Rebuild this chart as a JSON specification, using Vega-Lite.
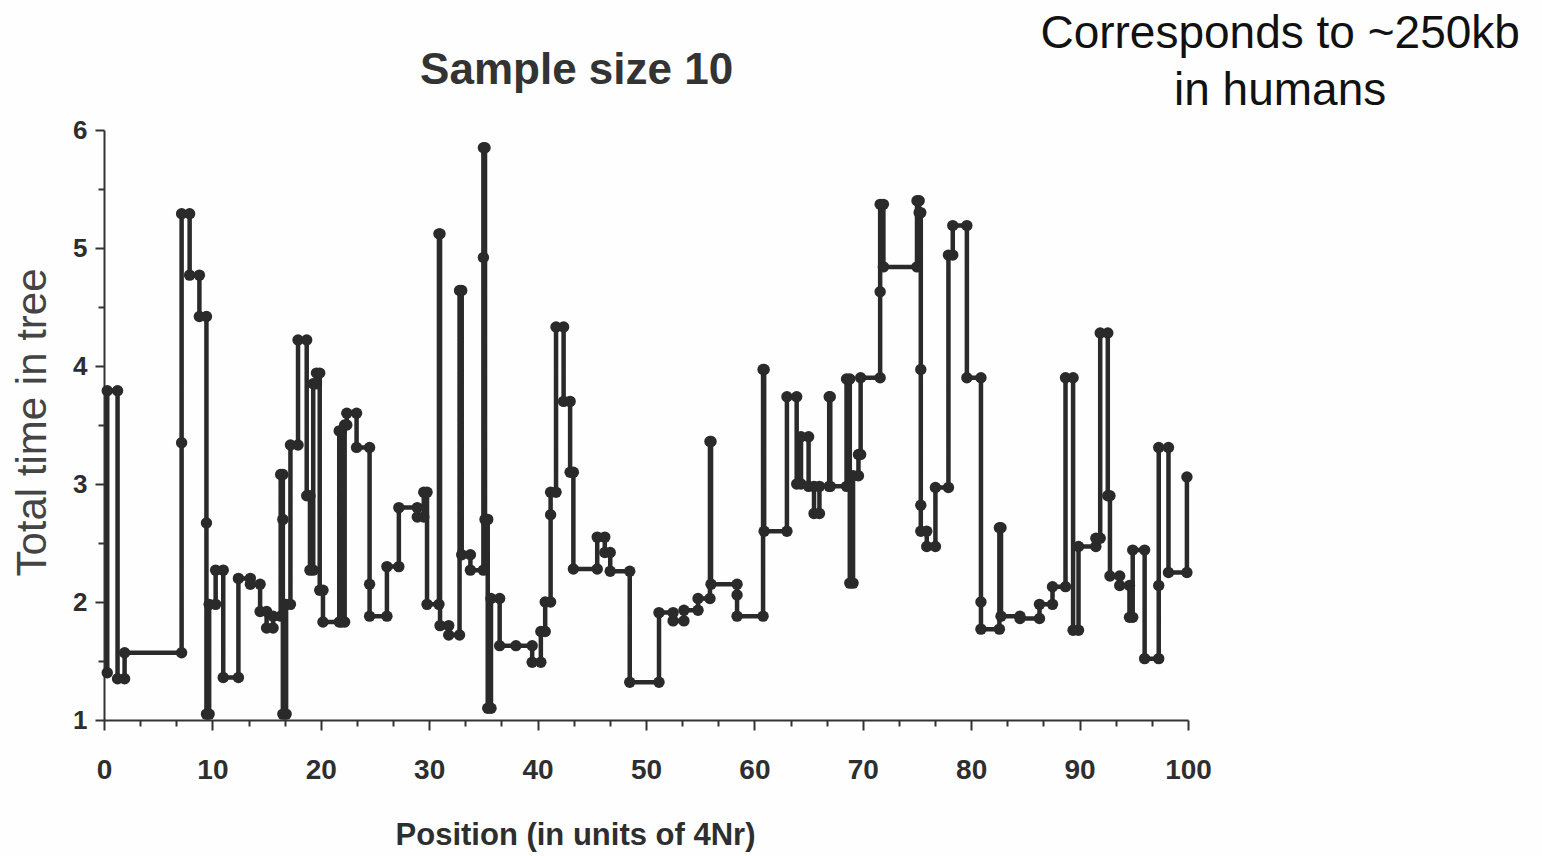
{
  "$schema": "https://vega.github.io/schema/vega-lite/v6.json",
  "autosize": "none",
  "width": 1084,
  "height": 590,
  "padding": {"left": 104, "top": 130, "right": 354, "bottom": 136},
  "background": "#fefefe",
  "config": {"view": {"stroke": null}, "font": "Liberation Sans"},
  "data": {"values": [
    {"i":1,"x":0.3,"y":1.4},{"i":2,"x":0.3,"y":3.79},{"i":3,"x":1.25,"y":3.79},{"i":4,"x":1.25,"y":1.35},{"i":5,"x":1.9,"y":1.35},{"i":6,"x":1.9,"y":1.57},{"i":7,"x":7.16,"y":1.57},{"i":8,"x":7.16,"y":3.35},{"i":9,"x":7.16,"y":5.29},{"i":10,"x":7.9,"y":5.29},
    {"i":11,"x":7.9,"y":4.77},{"i":12,"x":8.8,"y":4.77},{"i":13,"x":8.8,"y":4.42},{"i":14,"x":9.45,"y":4.42},{"i":15,"x":9.45,"y":2.67},{"i":16,"x":9.45,"y":1.05},{"i":17,"x":9.7,"y":1.05},{"i":18,"x":9.7,"y":1.98},{"i":19,"x":10.3,"y":1.98},{"i":20,"x":10.3,"y":2.27},
    {"i":21,"x":11.0,"y":2.27},{"i":22,"x":11.0,"y":1.36},{"i":23,"x":12.4,"y":1.36},{"i":24,"x":12.4,"y":2.2},{"i":25,"x":13.5,"y":2.2},{"i":26,"x":13.5,"y":2.15},{"i":27,"x":14.4,"y":2.15},{"i":28,"x":14.4,"y":1.92},{"i":29,"x":15.0,"y":1.92},{"i":30,"x":15.0,"y":1.78},
    {"i":31,"x":15.6,"y":1.78},{"i":32,"x":15.6,"y":1.88},{"i":33,"x":16.3,"y":1.88},{"i":34,"x":16.3,"y":3.08},{"i":35,"x":16.5,"y":3.08},{"i":36,"x":16.5,"y":2.7},{"i":37,"x":16.5,"y":1.05},{"i":38,"x":16.8,"y":1.05},{"i":39,"x":16.8,"y":1.98},{"i":40,"x":17.2,"y":1.98},
    {"i":41,"x":17.2,"y":3.33},{"i":42,"x":17.9,"y":3.33},{"i":43,"x":17.9,"y":4.22},{"i":44,"x":18.7,"y":4.22},{"i":45,"x":18.7,"y":2.9},{"i":46,"x":19.0,"y":2.9},{"i":47,"x":19.0,"y":2.27},{"i":48,"x":19.3,"y":2.27},{"i":49,"x":19.3,"y":3.85},{"i":50,"x":19.6,"y":3.85},
    {"i":51,"x":19.6,"y":3.94},{"i":52,"x":19.9,"y":3.94},{"i":53,"x":19.9,"y":2.1},{"i":54,"x":20.2,"y":2.1},{"i":55,"x":20.2,"y":1.83},{"i":56,"x":21.7,"y":1.83},{"i":57,"x":21.7,"y":3.45},{"i":58,"x":21.9,"y":3.45},{"i":59,"x":21.9,"y":1.83},{"i":60,"x":22.2,"y":1.83},
    {"i":61,"x":22.2,"y":3.5},{"i":62,"x":22.4,"y":3.5},{"i":63,"x":22.4,"y":3.6},{"i":64,"x":23.3,"y":3.6},{"i":65,"x":23.3,"y":3.31},{"i":66,"x":24.5,"y":3.31},{"i":67,"x":24.5,"y":2.15},{"i":68,"x":24.5,"y":1.88},{"i":69,"x":26.1,"y":1.88},{"i":70,"x":26.1,"y":2.3},
    {"i":71,"x":27.2,"y":2.3},{"i":72,"x":27.2,"y":2.8},{"i":73,"x":28.9,"y":2.8},{"i":74,"x":28.9,"y":2.72},{"i":75,"x":29.5,"y":2.72},{"i":76,"x":29.5,"y":2.93},{"i":77,"x":29.8,"y":2.93},{"i":78,"x":29.8,"y":1.98},{"i":79,"x":30.9,"y":1.98},{"i":80,"x":30.9,"y":5.12},
    {"i":81,"x":31.0,"y":5.12},{"i":82,"x":31.0,"y":1.8},{"i":83,"x":31.8,"y":1.8},{"i":84,"x":31.8,"y":1.72},{"i":85,"x":32.8,"y":1.72},{"i":86,"x":32.8,"y":4.64},{"i":87,"x":33.0,"y":4.64},{"i":88,"x":33.0,"y":2.4},{"i":89,"x":33.8,"y":2.4},{"i":90,"x":33.8,"y":2.27},
    {"i":91,"x":35.0,"y":2.27},{"i":92,"x":35.0,"y":4.92},{"i":93,"x":35.0,"y":5.85},{"i":94,"x":35.15,"y":5.85},{"i":95,"x":35.15,"y":2.7},{"i":96,"x":35.4,"y":2.7},{"i":97,"x":35.4,"y":1.1},{"i":98,"x":35.7,"y":1.1},{"i":99,"x":35.7,"y":2.03},{"i":100,"x":36.5,"y":2.03},
    {"i":101,"x":36.5,"y":1.63},{"i":102,"x":38.0,"y":1.63},{"i":103,"x":39.5,"y":1.63},{"i":104,"x":39.5,"y":1.49},{"i":105,"x":40.3,"y":1.49},{"i":106,"x":40.3,"y":1.75},{"i":107,"x":40.7,"y":1.75},{"i":108,"x":40.7,"y":2.0},{"i":109,"x":41.2,"y":2.0},{"i":110,"x":41.2,"y":2.74},
    {"i":111,"x":41.2,"y":2.93},{"i":112,"x":41.7,"y":2.93},{"i":113,"x":41.7,"y":4.33},{"i":114,"x":42.4,"y":4.33},{"i":115,"x":42.4,"y":3.7},{"i":116,"x":43.0,"y":3.7},{"i":117,"x":43.0,"y":3.1},{"i":118,"x":43.3,"y":3.1},{"i":119,"x":43.3,"y":2.28},{"i":120,"x":45.5,"y":2.28},
    {"i":121,"x":45.5,"y":2.55},{"i":122,"x":46.2,"y":2.55},{"i":123,"x":46.2,"y":2.42},{"i":124,"x":46.7,"y":2.42},{"i":125,"x":46.7,"y":2.26},{"i":126,"x":48.5,"y":2.26},{"i":127,"x":48.5,"y":1.32},{"i":128,"x":51.2,"y":1.32},{"i":129,"x":51.2,"y":1.91},{"i":130,"x":52.5,"y":1.91},
    {"i":131,"x":52.5,"y":1.84},{"i":132,"x":53.5,"y":1.84},{"i":133,"x":53.5,"y":1.93},{"i":134,"x":54.8,"y":1.93},{"i":135,"x":54.8,"y":2.03},{"i":136,"x":55.9,"y":2.03},{"i":137,"x":55.9,"y":3.36},{"i":138,"x":56.0,"y":3.36},{"i":139,"x":56.0,"y":2.15},{"i":140,"x":58.4,"y":2.15},
    {"i":141,"x":58.4,"y":2.06},{"i":142,"x":58.4,"y":1.88},{"i":143,"x":60.8,"y":1.88},{"i":144,"x":60.8,"y":3.97},{"i":145,"x":60.9,"y":3.97},{"i":146,"x":60.9,"y":2.6},{"i":147,"x":63.0,"y":2.6},{"i":148,"x":63.0,"y":3.74},{"i":149,"x":63.9,"y":3.74},{"i":150,"x":63.9,"y":3.0},
    {"i":151,"x":64.3,"y":3.0},{"i":152,"x":64.3,"y":3.4},{"i":153,"x":65.0,"y":3.4},{"i":154,"x":65.0,"y":2.98},{"i":155,"x":65.5,"y":2.98},{"i":156,"x":65.5,"y":2.75},{"i":157,"x":66.0,"y":2.75},{"i":158,"x":66.0,"y":2.98},{"i":159,"x":66.9,"y":2.98},{"i":160,"x":66.9,"y":3.74},
    {"i":161,"x":67.0,"y":3.74},{"i":162,"x":67.0,"y":2.98},{"i":163,"x":68.5,"y":2.98},{"i":164,"x":68.5,"y":3.89},{"i":165,"x":68.8,"y":3.89},{"i":166,"x":68.8,"y":2.16},{"i":167,"x":69.1,"y":2.16},{"i":168,"x":69.1,"y":3.07},{"i":169,"x":69.6,"y":3.07},{"i":170,"x":69.6,"y":3.25},
    {"i":171,"x":69.8,"y":3.25},{"i":172,"x":69.8,"y":3.9},{"i":173,"x":71.6,"y":3.9},{"i":174,"x":71.6,"y":4.63},{"i":175,"x":71.6,"y":5.37},{"i":176,"x":71.9,"y":5.37},{"i":177,"x":71.9,"y":4.84},{"i":178,"x":75.0,"y":4.84},{"i":179,"x":75.0,"y":5.4},{"i":180,"x":75.2,"y":5.4},
    {"i":181,"x":75.2,"y":5.3},{"i":182,"x":75.35,"y":5.3},{"i":183,"x":75.35,"y":3.97},{"i":184,"x":75.35,"y":2.82},{"i":185,"x":75.35,"y":2.6},{"i":186,"x":75.9,"y":2.6},{"i":187,"x":75.9,"y":2.47},{"i":188,"x":76.7,"y":2.47},{"i":189,"x":76.7,"y":2.97},{"i":190,"x":77.9,"y":2.97},
    {"i":191,"x":77.9,"y":4.94},{"i":192,"x":78.3,"y":4.94},{"i":193,"x":78.3,"y":5.19},{"i":194,"x":79.6,"y":5.19},{"i":195,"x":79.6,"y":3.9},{"i":196,"x":80.9,"y":3.9},{"i":197,"x":80.9,"y":2.0},{"i":198,"x":80.9,"y":1.77},{"i":199,"x":82.6,"y":1.77},{"i":200,"x":82.6,"y":2.63},
    {"i":201,"x":82.75,"y":2.63},{"i":202,"x":82.75,"y":1.88},{"i":203,"x":84.5,"y":1.88},{"i":204,"x":84.5,"y":1.86},{"i":205,"x":86.3,"y":1.86},{"i":206,"x":86.3,"y":1.98},{"i":207,"x":87.5,"y":1.98},{"i":208,"x":87.5,"y":2.13},{"i":209,"x":88.7,"y":2.13},{"i":210,"x":88.7,"y":3.9},
    {"i":211,"x":89.4,"y":3.9},{"i":212,"x":89.4,"y":1.76},{"i":213,"x":89.9,"y":1.76},{"i":214,"x":89.9,"y":2.47},{"i":215,"x":91.5,"y":2.47},{"i":216,"x":91.5,"y":2.54},{"i":217,"x":91.9,"y":2.54},{"i":218,"x":91.9,"y":4.28},{"i":219,"x":92.6,"y":4.28},{"i":220,"x":92.6,"y":2.9},
    {"i":221,"x":92.8,"y":2.9},{"i":222,"x":92.8,"y":2.22},{"i":223,"x":93.7,"y":2.22},{"i":224,"x":93.7,"y":2.14},{"i":225,"x":94.6,"y":2.14},{"i":226,"x":94.6,"y":1.87},{"i":227,"x":94.9,"y":1.87},{"i":228,"x":94.9,"y":2.44},{"i":229,"x":96.0,"y":2.44},{"i":230,"x":96.0,"y":1.52},
    {"i":231,"x":97.3,"y":1.52},{"i":232,"x":97.3,"y":2.14},{"i":233,"x":97.3,"y":3.31},{"i":234,"x":98.2,"y":3.31},{"i":235,"x":98.2,"y":2.25},{"i":236,"x":99.9,"y":2.25},{"i":237,"x":99.9,"y":3.06}
  ]},
  "encoding": {
    "x": {"field": "x", "type": "quantitative", "scale": {"domain": [0, 100], "nice": false, "zero": false},
      "axis": {"title": "Position (in units of 4Nr)", "titleFontSize": 31, "titleFontWeight": "bold", "titleColor": "#2e2e2e", "titleX": 471, "titleY": 115, "titleBaseline": "middle", "titleAlign": "center", "titleFont": "Liberation Sans",
        "values": [0,3.3333,6.6667,10,13.3333,16.6667,20,23.3333,26.6667,30,33.3333,36.6667,40,43.3333,46.6667,50,53.3333,56.6667,60,63.3333,66.6667,70,73.3333,76.6667,80,83.3333,86.6667,90,93.3333,96.6667,100],
        "labelExpr": "abs(datum.value - round(datum.value/10)*10) < 0.01 ? format(round(datum.value), 'd') : ''",
        "labelFontSize": 28, "labelFontWeight": "bold", "labelColor": "#2e2e2e", "labelPadding": 26, "labelFlush": false, "labelOverlap": false,
        "grid": false, "domainColor": "#333333", "domainWidth": 2, "tickColor": "#333333", "tickWidth": 2,
        "tickSize": {"condition": {"test": "abs(datum.value - round(datum.value/10)*10) < 0.01", "value": 10}, "value": 6}}},
    "y": {"field": "y", "type": "quantitative", "scale": {"domain": [1, 6], "nice": false, "zero": false},
      "axis": {"title": "Total time in tree", "titleFontSize": 42, "titleFontWeight": "normal", "titleColor": "#444444", "titleX": -72, "titleY": 292, "titleBaseline": "middle", "titleAlign": "center", "titleAngle": -90, "titleFont": "Liberation Sans",
        "values": [1,1.5,2,2.5,3,3.5,4,4.5,5,5.5,6],
        "labelExpr": "datum.value % 1 == 0 ? format(datum.value, 'd') : ''",
        "labelFontSize": 26, "labelFontWeight": "bold", "labelColor": "#2e2e2e", "labelPadding": 8, "labelOverlap": false,
        "grid": false, "domainColor": "#333333", "domainWidth": 2, "tickColor": "#333333", "tickWidth": 2,
        "tickSize": {"condition": {"test": "datum.value % 1 == 0", "value": 9}, "value": 6}}},
    "order": {"field": "i", "type": "quantitative"}
  },
  "layer": [
    {"mark": {"type": "line", "color": "#2a2a2a", "strokeWidth": 4.5, "strokeJoin": "round", "strokeCap": "round"}},
    {"mark": {"type": "point", "filled": true, "color": "#2a2a2a", "size": 130, "opacity": 1}},
    {"transform": [{"filter": "datum.i == 1"}],
     "mark": {"type": "text", "text": "Sample size 10", "fontSize": 44, "fontWeight": "bold", "font": "Liberation Sans", "color": "#333333", "align": "center", "baseline": "alphabetic"},
     "encoding": {"x": {"datum": 43.6}, "y": {"datum": 6.39}}},
    {"transform": [{"filter": "datum.i == 1"}],
     "mark": {"type": "text", "text": ["Corresponds to ~250kb", "in humans"], "fontSize": 46, "font": "Liberation Sans", "color": "#111111", "align": "center", "baseline": "top", "lineHeight": 57},
     "encoding": {"x": {"datum": 108.5}, "y": {"datum": 7.0}}}
  ]
}
